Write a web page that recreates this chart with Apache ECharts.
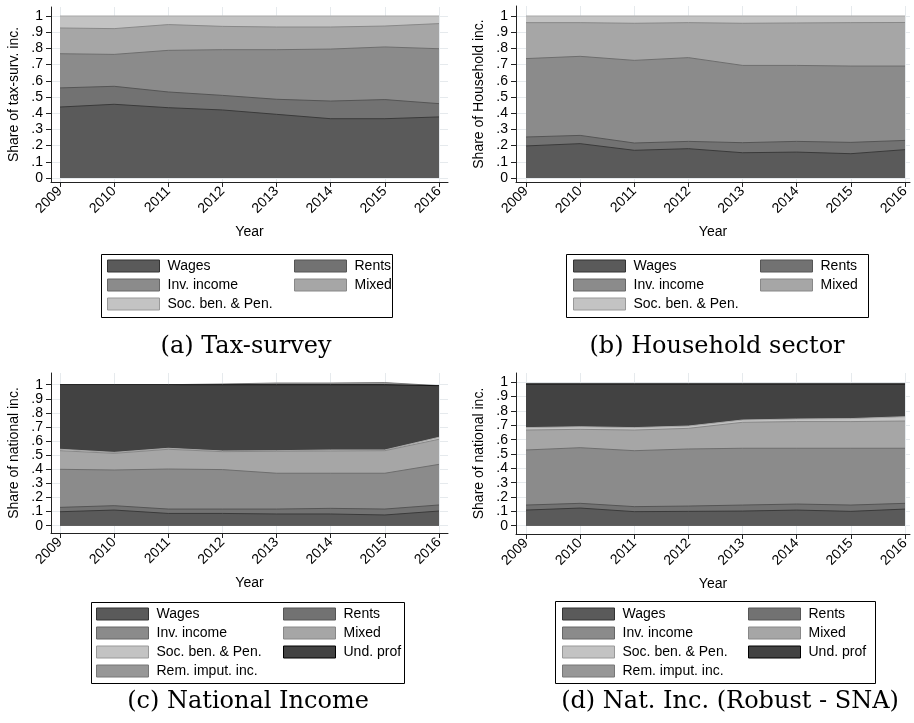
<!DOCTYPE html>
<html>
<head>
<meta charset="utf-8">
<script src="https://cdn.jsdelivr.net/npm/echarts@6/dist/echarts.min.js"></script>
<style>html,body{margin:0;padding:0;background:#fff}#c{width:914px;height:723px}</style>
</head>
<body>
<div id="c"></div>
<script>
// ---------------- DATA ----------------
const years = [2009, 2010, 2011, 2012, 2013, 2014, 2015, 2016];
const yTicks = [0, 0.1, 0.2, 0.3, 0.4, 0.5, 0.6, 0.7, 0.8, 0.9, 1];
const yTickLabels = ['0', '.1', '.2', '.3', '.4', '.5', '.6', '.7', '.8', '.9', '1'];
const seriesNames = ['Wages', 'Rents', 'Inv. income', 'Mixed', 'Soc. ben. & Pen.', 'Und. prof', 'Rem. imput. inc.'];

// (a) Tax-survey
const taxWages  = [0.438, 0.455, 0.434, 0.420, 0.393, 0.366, 0.366, 0.377];
const taxRents  = [0.118, 0.111, 0.097, 0.090, 0.093, 0.109, 0.118, 0.082];
const taxInv    = [0.211, 0.197, 0.257, 0.282, 0.306, 0.321, 0.325, 0.339];
const taxMixed  = [0.159, 0.159, 0.159, 0.144, 0.140, 0.136, 0.129, 0.155];
const taxSoc    = [0.074, 0.078, 0.053, 0.064, 0.068, 0.068, 0.062, 0.047];

// (b) Household sector
const hhWages   = [0.198, 0.212, 0.171, 0.181, 0.156, 0.160, 0.150, 0.175];
const hhRents   = [0.055, 0.051, 0.045, 0.045, 0.062, 0.066, 0.070, 0.057];
const hhInv     = [0.484, 0.488, 0.510, 0.517, 0.477, 0.469, 0.471, 0.459];
const hhMixed   = [0.222, 0.208, 0.229, 0.216, 0.260, 0.262, 0.268, 0.269];
const hhSoc     = [0.041, 0.041, 0.045, 0.041, 0.045, 0.043, 0.041, 0.040];

// (c) National Income
const niWages   = [0.099, 0.111, 0.087, 0.087, 0.083, 0.083, 0.076, 0.104];
const niRents   = [0.031, 0.031, 0.031, 0.031, 0.035, 0.040, 0.042, 0.043];
const niInv     = [0.270, 0.253, 0.284, 0.280, 0.254, 0.249, 0.254, 0.288];
const niMixed   = [0.132, 0.118, 0.140, 0.127, 0.156, 0.158, 0.160, 0.178];
const niSoc     = [0.010, 0.007, 0.007, 0.005, 0.004, 0.007, 0.005, 0.014];
const niUnd     = [0.458, 0.480, 0.451, 0.470, 0.468, 0.463, 0.463, 0.366];
const niRem     = [0.000, 0.000, 0.000, 0.005, 0.012, 0.012, 0.015, 0.000];

// (d) Nat. Inc. (Robust - SNA)
const snaWages  = [0.109, 0.123, 0.098, 0.100, 0.102, 0.109, 0.100, 0.116];
const snaRents  = [0.035, 0.033, 0.035, 0.037, 0.042, 0.042, 0.044, 0.040];
const snaInv    = [0.384, 0.388, 0.390, 0.398, 0.396, 0.389, 0.396, 0.384];
const snaMixed  = [0.139, 0.128, 0.144, 0.144, 0.181, 0.186, 0.186, 0.190];
const snaSoc    = [0.017, 0.018, 0.017, 0.016, 0.016, 0.018, 0.021, 0.030];
const snaUnd    = [0.304, 0.298, 0.304, 0.293, 0.251, 0.244, 0.241, 0.228];
const snaRem    = [0.004, 0.004, 0.004, 0.004, 0.004, 0.004, 0.004, 0.004];

const yTitles = ['Share of tax-surv. inc.', 'Share of Household inc.', 'Share of national inc.', 'Share of national inc.'];
const captions = ['(a) Tax-survey', '(b) Household sector', '(c) National Income', '(d) Nat. Inc. (Robust - SNA)'];

// ---------------- STYLE / LAYOUT ----------------
const fill = ['#5a5a5a', '#727272', '#8b8b8b', '#a6a6a6', '#c3c3c3', '#424242', '#979797'];
const edge = ['#3a3a3a', '#555555', '#6e6e6e', '#888888', '#a8a8a8', '#111111', '#7a7a7a'];
const legBorder = ['#333', '#555', '#666', '#888', '#999', '#000', '#777'];

const panels = [
  {data: [taxWages, taxRents, taxInv, taxMixed, taxSoc],
   x0: 60, x1: 439, yb: 178, yt: 16, axL: 51, axR: 448, axT: 7, axB: 182},
  {data: [hhWages, hhRents, hhInv, hhMixed, hhSoc],
   x0: 526, x1: 905, yb: 178, yt: 16, axL: 516, axR: 910, axT: 6, axB: 182},
  {data: [niWages, niRents, niInv, niMixed, niSoc, niUnd, niRem],
   x0: 60, x1: 439, yb: 525.7, yt: 384.7, axL: 51, axR: 448, axT: 373, axB: 533},
  {data: [snaWages, snaRents, snaInv, snaMixed, snaSoc, snaUnd, snaRem],
   x0: 526, x1: 905, yb: 525.7, yt: 382.3, axL: 516, axR: 910, axT: 373, axB: 534}
];

const legends = [
  {box: [101, 254, 291, 63], col1: [107, 259], col2: [294, 259], n: 5},
  {box: [566, 254, 302, 63], col1: [573, 259], col2: [760, 259], n: 5},
  {box: [91, 602, 313, 81], col1: [96, 607], col2: [283, 607], n: 7},
  {box: [555, 601, 320, 82], col1: [562, 607], col2: [748, 607], n: 7}
];
const captionPos = [[246, 335], [717, 335], [248, 690], [730, 690]];

const FONT = 'Liberation Sans';
const grids = [], xAxes = [], yAxes = [], series = [], legendComps = [], titles = [], graphics = [];

panels.forEach((p, i) => {
  const ppy = (p.x1 - p.x0) / (years[years.length - 1] - years[0]);
  const ppu = p.yb - p.yt;
  grids.push({left: p.axL, top: p.axT, width: p.axR - p.axL, height: p.axB - p.axT,
              outerBoundsMode: 'none', containLabel: false});
  xAxes.push({
    type: 'value', gridIndex: i,
    min: years[0] - (p.x0 - p.axL) / ppy,
    max: years[years.length - 1] + (p.axR - p.x1) / ppy,
    name: 'Year', nameLocation: 'middle', nameGap: 43, nameMoveOverlap: false,
    nameTextStyle: {fontFamily: FONT, fontSize: 14, color: '#000'},
    axisLine: {show: true, onZero: false, lineStyle: {color: '#222', width: 1}},
    axisTick: {show: true, length: 5, lineStyle: {color: '#222'}, customValues: years},
    axisLabel: {show: true, rotate: 45, margin: 7, fontFamily: FONT, fontSize: 14, color: '#000',
                customValues: years, formatter: v => String(Math.round(v))},
    splitLine: {show: true, lineStyle: {color: '#e6eaed', width: 1}}
  });
  yAxes.push({
    type: 'value', gridIndex: i,
    min: -(p.axB - p.yb) / ppu,
    max: 1 + (p.yt - p.axT) / ppu,
    name: yTitles[i], nameLocation: 'middle', nameGap: 30, nameRotate: 90, nameMoveOverlap: false,
    nameTextStyle: {fontFamily: FONT, fontSize: 14, color: '#000'},
    axisLine: {show: true, onZero: false, lineStyle: {color: '#222', width: 1}},
    axisTick: {show: true, length: 5, lineStyle: {color: '#222'}, customValues: yTicks},
    axisLabel: {show: true, margin: 8, fontFamily: FONT, fontSize: 14, color: '#000',
                customValues: yTicks,
                formatter: v => { const k = yTicks.findIndex(t => Math.abs(t - v) < 1e-6); return k >= 0 ? yTickLabels[k] : ''; }},
    splitLine: {show: true, lineStyle: {color: '#e6eaed', width: 1}}
  });
  // cumulative tops (areas drawn largest first, each filled down to 0, as in Stata)
  const cum = [];
  p.data.forEach((arr, k) => cum.push(arr.map((v, j) => v + (k > 0 ? cum[k - 1][j] : 0))));
  for (let k = p.data.length - 1; k >= 0; k--) {
    series.push({
      type: 'line', name: seriesNames[k], xAxisIndex: i, yAxisIndex: i,
      data: years.map((y, j) => [y, cum[k][j]]),
      symbol: 'none', showSymbol: false, smooth: false,
      lineStyle: {color: edge[k], width: 1},
      areaStyle: {color: fill[k], opacity: 1, origin: 'auto'},
      itemStyle: {color: fill[k], borderColor: legBorder[k], borderWidth: 1},
      emphasis: {disabled: true}, silent: true
    });
  }
  const L = legends[i];
  const names = seriesNames.slice(0, L.n);
  const c1 = names.filter((_, k) => k % 2 === 0);
  const c2 = names.filter((_, k) => k % 2 === 1);
  [[c1, L.col1], [c2, L.col2]].forEach(([lst, pos]) => {
    legendComps.push({
      orient: 'vertical', left: pos[0], top: pos[1], padding: 0, itemGap: 5,
      itemWidth: 52, itemHeight: 12, icon: 'rect', selectedMode: false,
      data: lst.map(n => { const k = seriesNames.indexOf(n); return {name: n, itemStyle: {color: fill[k], borderColor: legBorder[k], borderWidth: 1}}; }),
      textStyle: {fontFamily: FONT, fontSize: 14, color: '#000', padding: [0, 0, 0, 3]}
    });
  });
  graphics.push({type: 'rect', shape: {x: L.box[0] + 0.5, y: L.box[1] + 0.5, width: L.box[2], height: L.box[3]},
                 style: {fill: 'none', stroke: '#000', lineWidth: 1}, z: 10, silent: true});
  titles.push({text: captions[i], left: captionPos[i][0], top: captionPos[i][1], textAlign: 'center',
               padding: 0, textStyle: {fontFamily: 'DejaVu Serif', fontSize: 24, fontWeight: 'normal', color: '#000'}});
});

const chart = echarts.init(document.getElementById('c'), null, {renderer: 'canvas'});
chart.setOption({
  backgroundColor: '#fff',
  animation: false,
  grid: grids, xAxis: xAxes, yAxis: yAxes, series: series,
  legend: legendComps, title: titles, graphic: graphics
});
</script>
</body>
</html>
